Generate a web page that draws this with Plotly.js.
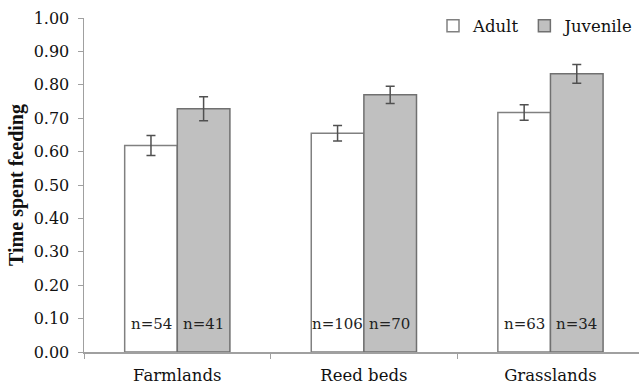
<!DOCTYPE html>
<html>
<head>
<meta charset="utf-8">
<script src="https://cdn.plot.ly/plotly-3.0.1.min.js"></script>
<style>html,body{margin:0;padding:0;background:#fff;}#chart{width:639px;height:389px;}</style>
</head>
<body>
<div id="chart"></div>
<script>
const categories = ["Farmlands", "Reed beds", "Grasslands"];
const adultValues = [0.618, 0.655, 0.717];
const adultErrors = [0.030, 0.023, 0.023];
const juvenileValues = [0.728, 0.770, 0.833];
const juvenileErrors = [0.036, 0.026, 0.028];
const adultN = ["n=54", "n=106", "n=63"];
const juvenileN = ["n=41", "n=70", "n=34"];
const yTicks = [0, 0.1, 0.2, 0.3, 0.4, 0.5, 0.6, 0.7, 0.8, 0.9, 1.0];

const serif = "DejaVu Serif";
const errStyle = {type: "data", visible: true, color: "#505050", thickness: 1.5, width: 4.5};

const traces = [
  {
    type: "bar", name: "Adult", x: categories, y: adultValues,
    error_y: Object.assign({array: adultErrors}, errStyle),
    marker: {color: "#ffffff", line: {color: "#808080", width: 1.5}}
  },
  {
    type: "bar", name: "Juvenile", x: categories, y: juvenileValues,
    error_y: Object.assign({array: juvenileErrors}, errStyle),
    marker: {color: "#c0c0c0", line: {color: "#707070", width: 1.5}}
  }
];

const annotations = [];
categories.forEach((c, i) => {
  annotations.push({x: c, y: 0.084, xref: "x", yref: "y", text: adultN[i], showarrow: false, xshift: -26, font: {family: serif, size: 15, color: "#222"}});
  annotations.push({x: c, y: 0.084, xref: "x", yref: "y", text: juvenileN[i], showarrow: false, xshift: 26, font: {family: serif, size: 15, color: "#222"}});
});

const layout = {
  width: 639, height: 389,
  margin: {l: 84, r: 0, t: 18, b: 37},
  paper_bgcolor: "#fff", plot_bgcolor: "#fff",
  font: {family: serif, size: 16, color: "#111"},
  barmode: "group", bargap: 0.436, bargroupgap: 0,
  showlegend: true,
  legend: {orientation: "h", x: 1.0, xanchor: "right", y: 0.976, yanchor: "middle", font: {family: serif, size: 16.5, color: "#111"}, itemwidth: 30, bgcolor: "rgba(0,0,0,0)"},
  xaxis: {
    range: [-0.5, 2.4745], showline: true, linecolor: "#a0a0a0", linewidth: 1.5,
    ticks: "outside", tickson: "boundaries", ticklen: 5, tickcolor: "#a0a0a0",
    ticklabelstandoff: 8,
    tickfont: {family: serif, size: 16.5, color: "#111"}, showgrid: false, zeroline: false
  },
  yaxis: {
    range: [0, 1], tickvals: yTicks, tickformat: ".2f", showline: true, linecolor: "#a0a0a0", linewidth: 1.5,
    ticks: "outside", ticklen: 5, tickcolor: "#a0a0a0", showgrid: false, zeroline: false,
    ticklabelstandoff: 5,
    tickfont: {family: serif, size: 16, color: "#111"},
    title: {text: "<b>Time spent feeding</b>", font: {family: "Liberation Serif", size: 20, color: "#111"}, standoff: 4}
  },
  annotations: annotations
};

Plotly.newPlot("chart", traces, layout, {displayModeBar: false, staticPlot: true});
</script>
</body>
</html>
